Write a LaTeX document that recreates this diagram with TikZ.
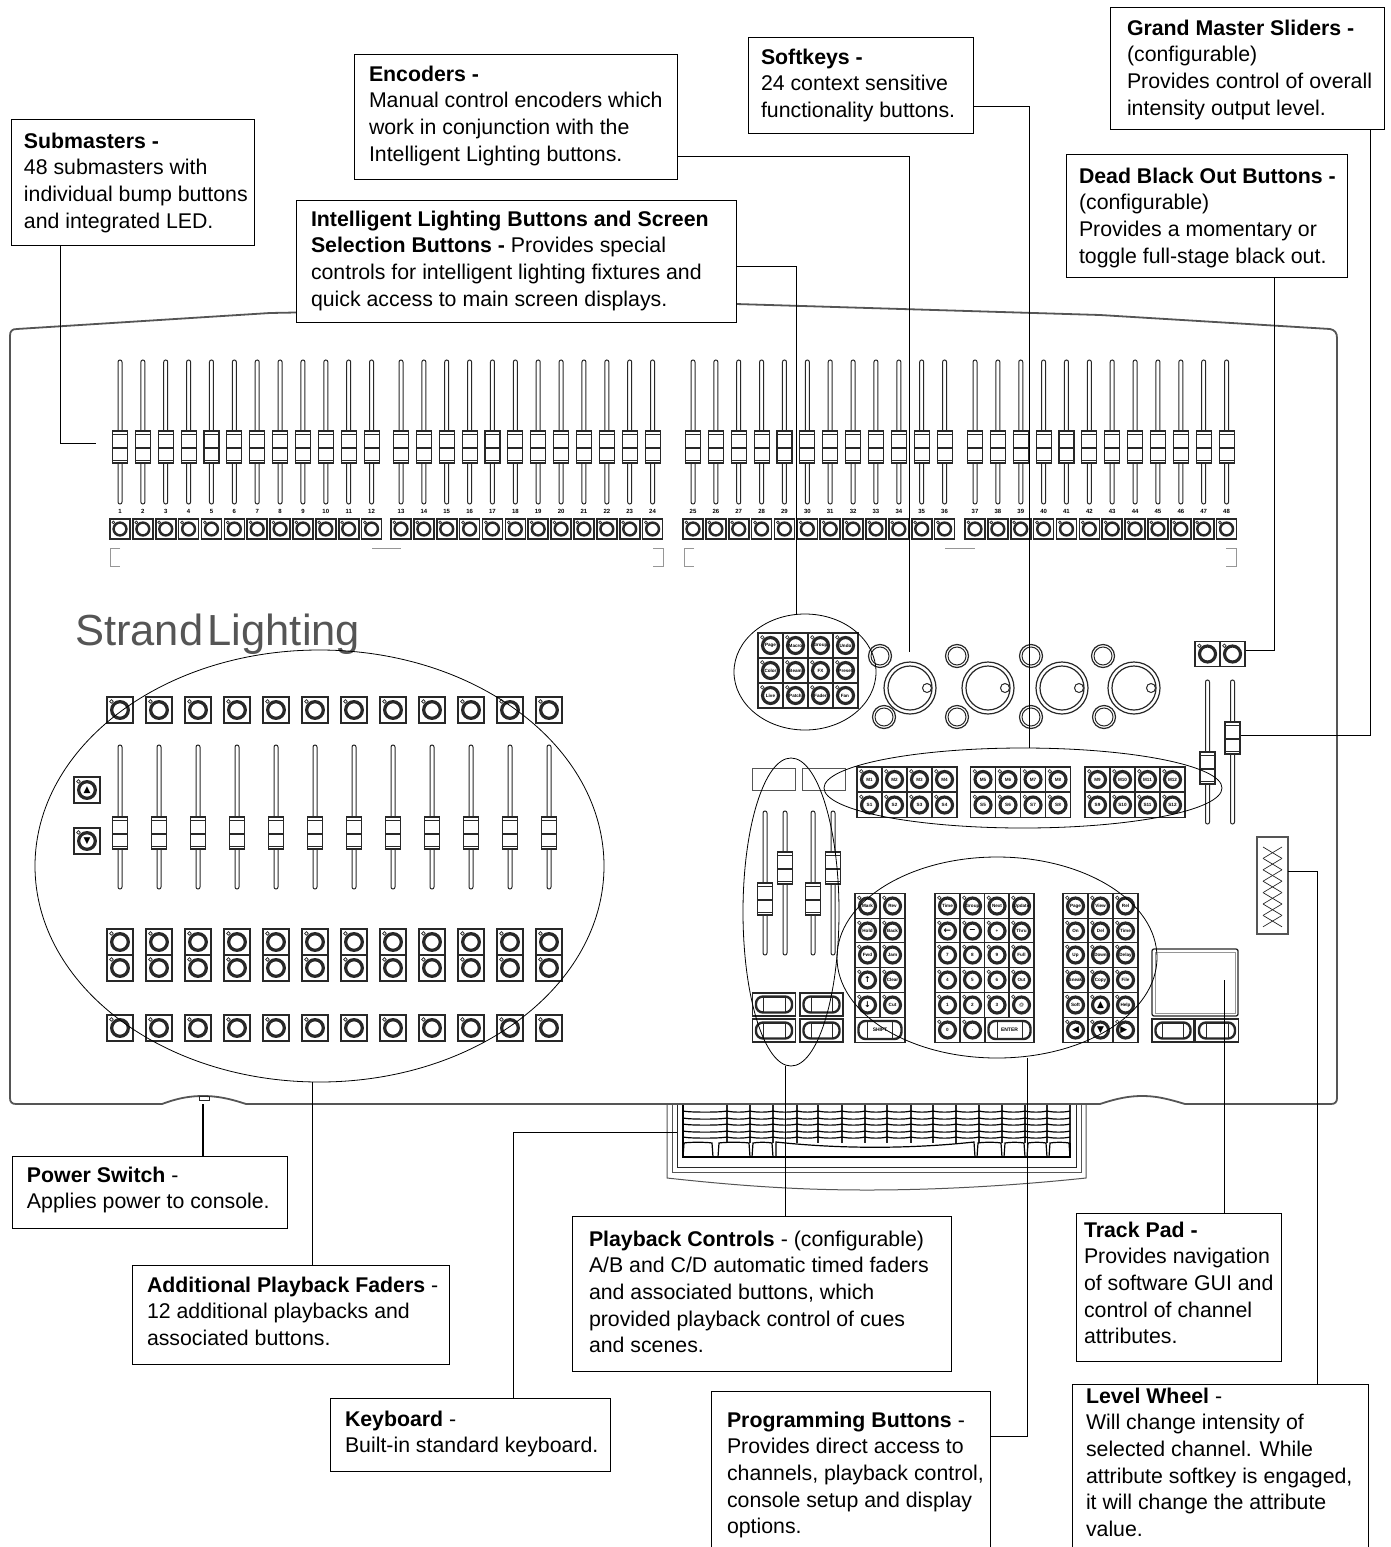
\documentclass[tikz,border=0pt]{standalone}
\usepackage{fontspec}
\usepackage{xcolor}
\usetikzlibrary{shapes.geometric}
\setmainfont{Liberation Sans}
\newfontfamily\symfont{DejaVu Sans}
\definecolor{inkgray}{RGB}{40,40,40}
\definecolor{shellgray}{RGB}{85,85,85}
\definecolor{faintgray}{RGB}{150,150,150}

\tikzset{
  callout/.style={draw=black,line width=1pt,fill=white,anchor=north west,inner sep=0pt,outer sep=0pt},
  leader/.style={black,line width=1pt},
  zone/.style={ellipse,draw=black,line width=0.8pt,inner sep=0pt,outer sep=0pt},
  keyframe/.style={draw=inkgray,fill=white,line width=1.6pt},
  keyface/.style={circle,draw=inkgray,inner sep=0pt,outer sep=0pt,font=\fontsize{4.6}{5}\selectfont\bfseries},
  keyled/.style={draw=inkgray,fill=white,line width=0.7pt},
  fadertrack/.style={draw=inkgray,fill=white,line width=1pt,rounded corners=2pt},
  fadercap/.style={draw=inkgray,fill=white,line width=1.1pt},
  shell/.style={draw=shellgray,line width=1.8pt},
  keyline/.style={draw=black,line width=1.2pt},
  numlabel/.style={font=\fontsize{6}{7}\selectfont\bfseries,inner sep=0pt}
}

\newcounter{keyno}
% x, y (centre), side, label
\newcommand{\consolekey}[4]{%
  \stepcounter{keyno}
  \draw[keyframe] ({#1-#3/2},{#2-#3/2}) rectangle ({#1+#3/2},{#2+#3/2});
  \node[keyface,line width={0.125*#3},minimum size={0.64*#3}] (key\arabic{keyno}) at ({#1},{#2}) {\makebox[0pt]{#4}};
  \draw[keyled] ({#1-0.33*#3},{#2-0.33*#3}) circle[radius=0.07*#3 pt];
}
% x, y (centre), width, height, label
\newcommand{\consolepill}[5]{%
  \stepcounter{keyno}
  \draw[keyframe] ({#1-#3/2},{#2-#4/2}) rectangle ({#1+#3/2},{#2+#4/2});
  \draw[inkgray,line width=0.5pt] ({#1-#3/4},{#2-#4/3}) rectangle ({#1+#3/4},{#2+#4/3});
  \node[draw=inkgray,line width=2.4pt,rounded corners=7pt,minimum width={#3-7},minimum height={#4-7},inner sep=0pt,font=\fontsize{5}{6}\selectfont\bfseries] (key\arabic{keyno}) at ({#1},{#2}) {#5};
}
% x, track top, cap top
\newcommand{\consolefader}[3]{%
  \draw[fadertrack] ({#1-2},{#2}) rectangle ({#1+2},{#2+144});
  \draw[fadercap] ({#1-7.5},{#3}) rectangle ({#1+7.5},{#3+32});
  \draw[inkgray,line width=1pt] ({#1-7.5},{#3+3}) -- ({#1+7.5},{#3+3});
  \draw[inkgray,line width=1.4pt] ({#1-7.5},{#3+17}) -- ({#1+7.5},{#3+17});
  \draw[inkgray,line width=1pt] ({#1-7.5},{#3+29}) -- ({#1+7.5},{#3+29});
}
% width, height, text inset, first baseline, text
\newcommand{\calloutbody}[5]{\parbox[c][#2pt][t]{#1pt}{\leftskip=#3pt\rightskip=0pt plus 1fil\parindent=0pt
  \fontsize{21.3}{26.7}\selectfont\rule{0pt}{#4pt}#5}}

\begin{document}
\begin{tikzpicture}[x=1pt,y=-1pt]

\useasboundingbox (0,0) rectangle (1390,1547);
\fill[white] (0,0) rectangle (1390,1547);

% Console outline
\draw[shell,line cap=round] (10,1098) -- (10,336) .. controls (10,331) and (12,329) .. (17,329)
  -- (270,313) -- (736,304) -- (1100,315) -- (1330,329)
  .. controls (1335,330) and (1337,333) .. (1337,338) -- (1337,1098)
  .. controls (1337,1102) and (1335,1104) .. (1331,1104) -- (1185,1104)
  .. controls (1165,1098) and (1155,1096) .. (1142,1096)
  .. controls (1130,1096) and (1118,1098) .. (1100,1104) -- (246,1104)
  .. controls (228,1098) and (216,1096) .. (203,1096)
  .. controls (190,1096) and (178,1098) .. (162,1104) -- (16,1104)
  .. controls (12,1104) and (10,1102) .. (10,1098);
\draw[inkgray,line width=0.7pt] (199,1096) rectangle (209,1100);

% Keyboard
\draw[shellgray,line width=1pt] (667,1105) -- (667,1178) .. controls (740,1186) and (800,1190) .. (867,1190)
  .. controls (935,1190) and (1010,1186) .. (1086,1178) -- (1086,1105);
\draw[shellgray,line width=1pt] (672,1105) -- (672,1172) -- (1081,1172) -- (1081,1105);
\draw[inkgray,line width=1pt] (677,1105) -- (677,1167) -- (1076,1167) -- (1076,1105);
\draw[keyline] (683,1105) -- (683,1157) -- (1070,1157) -- (1070,1105);
\foreach \a/\b in {
683/727,727/750,750/773,773/797,797/818,818/842,842/865,865/887,
887/911,911/933,933/956,956/979,979/1002,1002/1025,1025/1047,1047/1070
}{
\draw[inkgray,line width=2.4pt] (\b,1105) -- (\b,1143);
\foreach \y in {1111,1118,1124,1131,1137}{
\draw[keyline] (\a,\y) .. controls ({\a+6},{\y+1.5}) and ({\b-6},{\y+1.5}) .. (\b,\y);
}
}
\foreach \a/\b in {
683/713,718/750,752/773,977/1002,1004/1025,1027/1047,1049/1070
}{
\draw[keyline] (\a,1157) -- ({\a+1},1143) .. controls ({\a+6},1142) and ({\b-6},1142) .. ({\b-1},1143) -- (\b,1157);
}
\draw[keyline] (776,1157) -- (776,1142) .. controls (840,1149) and (910,1149) .. (974,1142) -- (975,1157);

% Submaster faders and bump buttons
\foreach \first/\xstart in {1/120,13/401,25/693,37/975}{
\foreach \i in {0,...,11}{
\pgfmathsetmacro\xpos{\xstart+22.87*\i}
\pgfmathtruncatemacro\num{\first+\i}
\consolefader{\xpos}{360}{431}
\node[numlabel] (num\num) at (\xpos,511) {\num};
\consolekey{\xpos}{529}{20}{}
}
}

% Brackets under the bump buttons
\draw[faintgray,line width=0.9pt] (120,548) -- (110,548) -- (110,566) -- (120,566);
\draw[faintgray,line width=0.9pt] (653,548) -- (663,548) -- (663,566) -- (653,566);
\draw[faintgray,line width=0.9pt] (694,548) -- (684,548) -- (684,566) -- (694,566);
\draw[faintgray,line width=0.9pt] (1226,548) -- (1236,548) -- (1236,566) -- (1226,566);
\draw[faintgray,line width=0.9pt] (372,548) -- (401,548);
\draw[faintgray,line width=0.9pt] (945,548) -- (975,548);

% Logo
\node[anchor=base west,inner sep=0pt,text=shellgray,font=\fontsize{43.5}{43}\selectfont] (logo) at (75,645) {Strand\hspace{0.1em}Lighting};

% Additional playbacks
\foreach \i in {0,...,11}{
\consolekey{120+39*\i}{710}{26}{}
\consolefader{120+39*\i}{745}{817}
\consolekey{120+39*\i}{942}{26}{}
\consolekey{120+39*\i}{968}{26}{}
\consolekey{120+39*\i}{1028}{26}{}
}
\consolekey{87}{790}{26}{\symfont\fontsize{9}{9}\selectfont ▲}
\consolekey{87}{841}{26}{\symfont\fontsize{9}{9}\selectfont ▼}

% Intelligent lighting buttons
\foreach \c/\r/\lab in {
0/0/Page,1/0/Macro,2/0/Group,3/0/Undo,
0/1/Color,1/1/Beam,2/1/FX,3/1/Preset,
0/2/Live,1/2/Patch,2/2/Fader,3/2/Fan
}{
\consolekey{770.5+25*\c}{645.5+25*\r}{25}{\lab}
}

% Encoders
\foreach \x in {910,988,1062,1134}{
\draw[inkgray,line width=1.2pt] (\x,688) circle[radius=26pt];
\draw[inkgray,line width=1.2pt] (\x,688) circle[radius=22pt];
\draw[draw=inkgray,fill=white,line width=1pt] (\x+17,688) circle[radius=4.5pt];
}
\foreach \x/\y in {
880/656,884/717,957/656,957/717,1031/656,1031/717,1103/656,1104/717
}{
\draw[inkgray,line width=1.2pt] (\x,\y) circle[radius=11.5pt];
\draw[inkgray,line width=1pt] (\x,\y) circle[radius=9pt];
}

% Softkeys
\foreach \xstart/\m in {869.5/0,983/4,1097.5/8}{
\foreach \i in {1,...,4}{
\pgfmathtruncatemacro\num{\m+\i}
\consolekey{\xstart+25*(\i-1)}{779.5}{25}{M\num}
\consolekey{\xstart+25*(\i-1)}{805}{25}{S\num}
}
}
\draw[shellgray,line width=0.9pt] (752,768) rectangle (795,790);
\draw[shellgray,line width=0.9pt] (802,768) rectangle (845,790);

% Grand master sliders and black out buttons
\consolefader{1207.5}{680}{752}
\consolefader{1232.5}{680}{722}
\consolekey{1207.5}{654}{25}{}
\consolekey{1232.5}{654}{25}{}

% Playback faders and buttons
\consolefader{765}{811}{883}
\consolefader{785}{811}{852}
\consolefader{813}{811}{883}
\consolefader{833}{811}{852}
\foreach \x/\y in {774/1004.5,821.5/1004.5,774/1030.5,821.5/1030.5}{
\consolepill{\x}{\y}{43}{23}{}
}

% Programming buttons
\foreach \x/\y/\lab in {
867.5/906/Mark,892.5/906/Rev,
867.5/931/Hold,892.5/931/Back,
867.5/955/Fwd,892.5/955/Jam,
867.5/980/\symfont\fontsize{8}{8}\selectfont ↑,892.5/980/Clear,
867.5/1005/\symfont\fontsize{8}{8}\selectfont ↓,892.5/1005/Cut,
947.5/906/Time,972.5/906/Group,997/906/Next,1021.5/906/Update,
947.5/931/\symfont\fontsize{9}{9}\selectfont ←,972.5/931/\symfont\fontsize{8}{8}\selectfont −,997/931/+,1021.5/931/Thru,
947.5/955/7,972.5/955/8,997/955/9,1021.5/955/Full,
947.5/980/4,972.5/980/5,997/980/6,1021.5/980/Out,
947.5/1005/1,972.5/1005/2,997/1005/3,1021.5/1005/@,
947.5/1030/0,972.5/1030/.,
1075.5/906/Page,1100.5/906/View,1125.5/906/Rel,
1075.5/931/On,1100.5/931/Del,1125.5/931/Time,
1075.5/955/Up,1100.5/955/Down,1125.5/955/Delay,
1075.5/980/Sneak,1100.5/980/Copy,1125.5/980/File,
1075.5/1005/Soft,1100.5/1005/\symfont\fontsize{9}{9}\selectfont ▲,1125.5/1005/Help,
1075.5/1030/\symfont\fontsize{9}{9}\selectfont ◀,1100.5/1030/\symfont\fontsize{9}{9}\selectfont ▼,1125.5/1030/\symfont\fontsize{9}{9}\selectfont ▶
}{
\consolekey{\x}{\y}{25}{\lab}
}
\consolepill{880}{1030}{50}{25}{SHIFT}
\consolepill{1009.5}{1030}{49}{25}{ENTER}

% Track pad and its buttons
\draw[inkgray,line width=1.3pt,rounded corners=2pt] (1152,949) rectangle (1238,1016);
\draw[faintgray,line width=0.8pt] (1155,952) rectangle (1235,1013);
\consolepill{1173}{1030.5}{42}{23}{}
\consolepill{1217}{1030.5}{43}{23}{}

% Level wheel
\node[draw=shellgray,line width=1.1pt,minimum width=31,minimum height=97,inner sep=0pt,outer sep=0pt] (wheel) at (1272.5,885.5) {};
\foreach \i in {0,...,6}{
\draw[inkgray,line width=0.7pt] (1263,847+11.4*\i) -- (1282,858.4+11.4*\i);
\draw[inkgray,line width=0.7pt] (1282,847+11.4*\i) -- (1263,858.4+11.4*\i);
}

% Grouping ellipses
\node[zone,minimum width=569,minimum height=432] (addZone) at (319.5,866) {};
\node[zone,minimum width=142,minimum height=116] (intelZone) at (805,672) {};
\node[zone,minimum width=398,minimum height=80] (softZone) at (1023,788) {};
\node[zone,minimum width=96,minimum height=308] (playZone) at (791,912) {};
\node[zone,minimum width=320,minimum height=201] (progZone) at (997,957.5) {};

% Callouts
\node[callout] (subBox) at (11,119) {\calloutbody{243}{126}{13}{29}{\textbf{Submasters -}\\48 submasters with\\individual bump buttons\\and integrated LED.}};
\node[callout] (encBox) at (354,54) {\calloutbody{323}{125}{15}{27}{\textbf{Encoders -}\\Manual control encoders which\\work in conjunction with the\\Intelligent Lighting buttons.}};
\node[callout] (softBox) at (748,37) {\calloutbody{225}{96}{13}{27}{\textbf{Softkeys -}\\24 context sensitive\\functionality buttons.}};
\node[callout] (grandBox) at (1110,7) {\calloutbody{274}{122}{17}{28}{\textbf{Grand Master Sliders -}\\(configurable)\\Provides control of overall\\intensity output level.}};
\node[callout] (deadBox) at (1066,154) {\calloutbody{281}{123}{13}{29}{\textbf{Dead Black Out Buttons -}\\(configurable)\\Provides a momentary or\\toggle full-stage black out.}};
\node[callout] (intelBox) at (296,200) {\calloutbody{440}{122}{15}{26}{\textbf{Intelligent Lighting Buttons and Screen}\\\textbf{Selection Buttons -} Provides special\\controls for intelligent lighting fixtures and\\quick access to main screen displays.}};
\node[callout] (powerBox) at (12,1156) {\calloutbody{275}{72}{15}{26}{\textbf{Power Switch} -\\Applies power to console.}};
\node[callout] (addBox) at (132,1265) {\calloutbody{317}{99}{15}{27}{\textbf{Additional Playback Faders} -\\12 additional playbacks and\\associated buttons.}};
\node[callout] (playBox) at (572,1216) {\calloutbody{379}{155}{17}{30}{\textbf{Playback Controls} - (configurable)\\A/B and C/D automatic timed faders\\and associated buttons, which\\provided playback control of cues\\and scenes.}};
\node[callout] (keybBox) at (330,1398) {\calloutbody{280}{73}{15}{28}{\textbf{Keyboard} -\\Built-in standard keyboard.}};
\node[callout] (progBox) at (711,1391) {\calloutbody{279}{170}{16}{36}{\textbf{Programming Buttons} -\\Provides direct access to\\channels, playback control,\\console setup and display\\options.}};
\node[callout] (padBox) at (1076,1213) {\calloutbody{205}{148}{8}{24}{\textbf{Track Pad -}\\Provides navigation\\of software GUI and\\control of channel\\attributes.}};
\node[callout] (wheelBox) at (1072,1384) {\calloutbody{296}{180}{14}{19}{\textbf{Level Wheel} -\\Will change intensity of\\selected channel. While\\attribute softkey is engaged,\\it will change the attribute\\value.}};

% Leader lines
\coordinate (subBend) at (60,443);
\coordinate (subEnd) at (96,443);
\coordinate (encBend) at (909,156);
\coordinate (encEnd) at (909,652);
\coordinate (softBend) at (1029,106);
\coordinate (softEnd) at (1029,748);
\coordinate (grandBend) at (1370,735);
\coordinate (grandEnd) at (1241,735);
\coordinate (deadBend) at (1274,650);
\coordinate (deadEnd) at (1246,650);
\coordinate (intelBend) at (796,266);
\coordinate (intelEnd) at (796,614);
\coordinate (powerEnd) at (203,1104);
\coordinate (addEnd) at (312,1082);
\coordinate (keybBend) at (513,1132);
\coordinate (keybEnd) at (677,1132);
\coordinate (playEnd) at (785,1066);
\coordinate (progBend) at (1027,1436);
\coordinate (progEnd) at (1027,1058);
\coordinate (padEnd) at (1224,980);
\coordinate (wheelBend) at (1317,871);
\coordinate (wheelEnd) at (1288,871);

\draw[leader] (subBox.south -| subBend) -- (subBend) -- (subEnd);
\draw[leader] (encBend -| encBox.east) -- (encBend) -- (encEnd);
\draw[leader] (softBend -| softBox.east) -- (softBend) -- (softEnd);
\draw[leader] (grandBox.south -| grandBend) -- (grandBend) -- (grandEnd);
\draw[leader] (deadBox.south -| deadBend) -- (deadBend) -- (deadEnd);
\draw[leader] (intelBend -| intelBox.east) -- (intelBend) -- (intelEnd);
\draw[leader,line width=1.6pt] (powerBox.north -| powerEnd) -- (powerEnd);
\draw[leader] (addBox.north -| addEnd) -- (addEnd);
\draw[leader] (keybBox.north -| keybBend) -- (keybBend) -- (keybEnd);
\draw[leader] (playBox.north -| playEnd) -- (playEnd);
\draw[leader] (progBend -| progBox.east) -- (progBend) -- (progEnd);
\draw[leader] (padBox.north -| padEnd) -- (padEnd);
\draw[leader] (wheelBox.north -| wheelBend) -- (wheelBend) -- (wheelEnd);

\end{tikzpicture}
\end{document}
